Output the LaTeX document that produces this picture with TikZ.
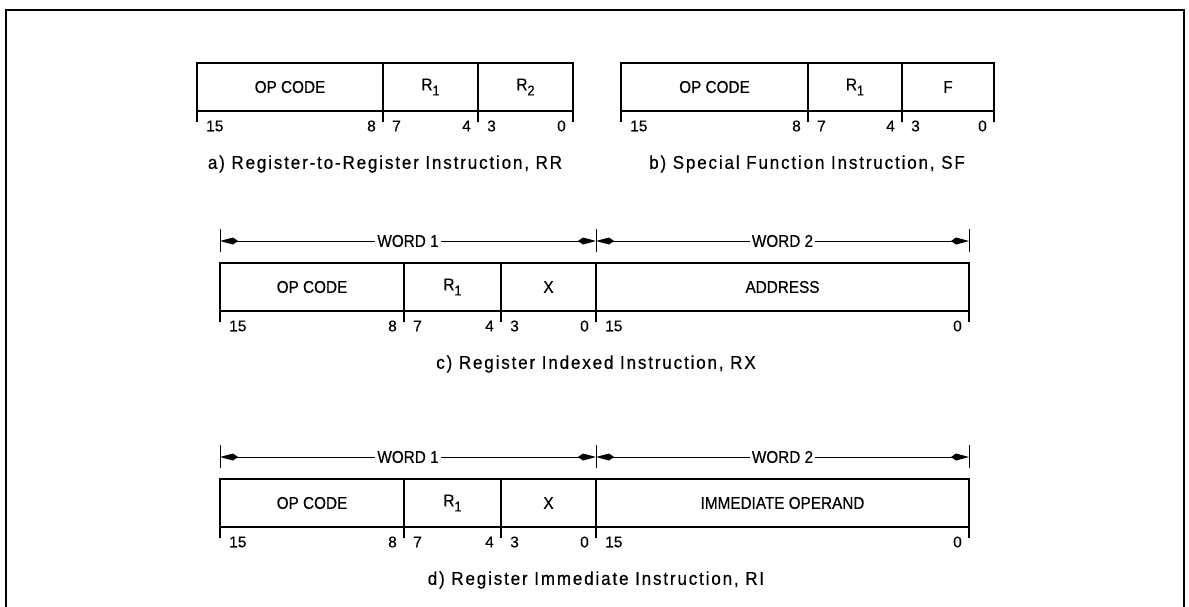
\documentclass[tikz,border=0pt]{standalone}
\usepackage{fontspec}
\setmainfont{Liberation Sans}[FakeBold=0.4]
\newfontfamily\fieldfam[FakeStretch=0.9,FakeBold=0.5]{Liberation Sans}
\newfontfamily\capfam[FakeStretch=0.92,LetterSpace=10,FakeBold=0.5]{Liberation Sans}
\usetikzlibrary{arrows.meta}
\newcommand{\lbl}{\fieldfam\fontsize{17}{20}\selectfont}
\newcommand{\numfnt}{\fontsize{15.5}{18}\selectfont}
\newcommand{\capfnt}{\capfam\fontsize{18.5}{22}\selectfont}
\newcommand{\subone}[1]{\raisebox{-5pt}{\fontsize{14}{14}\selectfont #1}}
\begin{document}
\begin{tikzpicture}[x=1pt,y=-1pt,
  field/.style={draw, line width=1.5pt, minimum height=48pt, inner sep=0pt, outer sep=0pt, anchor=north west, font=\lbl},
  tickline/.style={line width=1.5pt},
  num/.style={inner sep=0pt, font=\numfnt},
  captxt/.style={inner sep=0pt, font=\capfnt},
  wordlbl/.style={inner sep=2pt, font=\lbl},
  dimline/.style={line width=1pt, -{Kite[length=18pt,width=7pt,inset=5pt]}},
  frameline/.style={line width=2pt}]
\useasboundingbox (0,0) rectangle (1189,607);
% frame
\draw[frameline] (6,607) -- (6,10) -- (1184,10) -- (1184,607);

% ---------- a) RR ----------
\node[field, minimum width=186pt] (aop) at (197,63) {OP CODE};
\node[field, minimum width=95pt] (ar1) at (aop.north east) {R\subone{1}};
\node[field, minimum width=95pt] (ar2) at (ar1.north east) {R\subone{2}};
\foreach \n in {aop.south west, ar1.south west, ar2.south west, ar2.south east}
  \draw[tickline] (\n) -- ++(0,11);
\node[num, anchor=west] at ([xshift=9pt,yshift=-15pt]aop.south west) {15};
\node[num, anchor=east] at ([xshift=-7pt,yshift=-15pt]aop.south east) {8};
\node[num, anchor=west] at ([xshift=9pt,yshift=-15pt]ar1.south west) {7};
\node[num, anchor=east] at ([xshift=-7pt,yshift=-15pt]ar1.south east) {4};
\node[num, anchor=west] at ([xshift=9pt,yshift=-15pt]ar2.south west) {3};
\node[num, anchor=east] at ([xshift=-7pt,yshift=-15pt]ar2.south east) {0};
\node[captxt] (capa) at (385,164) {a) Register-to-Register Instruction, RR};

% ---------- b) SF ----------
\node[field, minimum width=187pt] (bop) at (621,63) {OP CODE};
\node[field, minimum width=94pt] (br1) at (bop.north east) {R\subone{1}};
\node[field, minimum width=92pt] (bf) at (br1.north east) {F};
\foreach \n in {bop.south west, br1.south west, bf.south west, bf.south east}
  \draw[tickline] (\n) -- ++(0,11);
\node[num, anchor=west] at ([xshift=9pt,yshift=-15pt]bop.south west) {15};
\node[num, anchor=east] at ([xshift=-7pt,yshift=-15pt]bop.south east) {8};
\node[num, anchor=west] at ([xshift=9pt,yshift=-15pt]br1.south west) {7};
\node[num, anchor=east] at ([xshift=-7pt,yshift=-15pt]br1.south east) {4};
\node[num, anchor=west] at ([xshift=9pt,yshift=-15pt]bf.south west) {3};
\node[num, anchor=east] at ([xshift=-7pt,yshift=-15pt]bf.south east) {0};
\node[captxt] (capb) at (807,164) {b) Special Function Instruction, SF};

% ---------- c) RX ----------
\coordinate (cl) at (220,241);
\coordinate (cm) at (596,241);
\coordinate (cr) at (969,241);
\foreach \c in {cl,cm,cr}
  \draw[line width=1pt] ([yshift=12pt]\c) -- ([yshift=-11pt]\c);
\node[wordlbl] (cw1) at (408,241) {WORD 1};
\node[wordlbl] (cw2) at (782.5,241) {WORD 2};
\draw[dimline] (cw1.west) -- (cl);
\draw[dimline] (cw1.east) -- (cm);
\draw[dimline] (cw2.west) -- (cm);
\draw[dimline] (cw2.east) -- (cr);
\node[field, minimum width=184pt] (cop) at (220,263) {OP CODE};
\node[field, minimum width=97pt] (cr1) at (cop.north east) {R\subone{1}};
\node[field, minimum width=95pt] (cx) at (cr1.north east) {X};
\node[field, minimum width=373pt] (cad) at (cx.north east) {ADDRESS};
\foreach \n in {cop.south west, cr1.south west, cx.south west, cad.south west, cad.south east}
  \draw[tickline] (\n) -- ++(0,11);
\node[num, anchor=west] at ([xshift=9pt,yshift=-15pt]cop.south west) {15};
\node[num, anchor=east] at ([xshift=-7pt,yshift=-15pt]cop.south east) {8};
\node[num, anchor=west] at ([xshift=9pt,yshift=-15pt]cr1.south west) {7};
\node[num, anchor=east] at ([xshift=-7pt,yshift=-15pt]cr1.south east) {4};
\node[num, anchor=west] at ([xshift=9pt,yshift=-15pt]cx.south west) {3};
\node[num, anchor=east] at ([xshift=-7pt,yshift=-15pt]cx.south east) {0};
\node[num, anchor=west] at ([xshift=9pt,yshift=-15pt]cad.south west) {15};
\node[num, anchor=east] at ([xshift=-7pt,yshift=-15pt]cad.south east) {0};
\node[captxt] (capc) at (596,364) {c) Register Indexed Instruction, RX};

% ---------- d) RI ----------
\coordinate (dl) at (220,457);
\coordinate (dm) at (596,457);
\coordinate (dr) at (969,457);
\foreach \c in {dl,dm,dr}
  \draw[line width=1pt] ([yshift=12pt]\c) -- ([yshift=-11pt]\c);
\node[wordlbl] (dw1) at (408,457) {WORD 1};
\node[wordlbl] (dw2) at (782.5,457) {WORD 2};
\draw[dimline] (dw1.west) -- (dl);
\draw[dimline] (dw1.east) -- (dm);
\draw[dimline] (dw2.west) -- (dm);
\draw[dimline] (dw2.east) -- (dr);
\node[field, minimum width=184pt] (dop) at (220,479) {OP CODE};
\node[field, minimum width=97pt] (dr1) at (dop.north east) {R\subone{1}};
\node[field, minimum width=95pt] (dx) at (dr1.north east) {X};
\node[field, minimum width=373pt] (dimm) at (dx.north east) {IMMEDIATE OPERAND};
\foreach \n in {dop.south west, dr1.south west, dx.south west, dimm.south west, dimm.south east}
  \draw[tickline] (\n) -- ++(0,11);
\node[num, anchor=west] at ([xshift=9pt,yshift=-15pt]dop.south west) {15};
\node[num, anchor=east] at ([xshift=-7pt,yshift=-15pt]dop.south east) {8};
\node[num, anchor=west] at ([xshift=9pt,yshift=-15pt]dr1.south west) {7};
\node[num, anchor=east] at ([xshift=-7pt,yshift=-15pt]dr1.south east) {4};
\node[num, anchor=west] at ([xshift=9pt,yshift=-15pt]dx.south west) {3};
\node[num, anchor=east] at ([xshift=-7pt,yshift=-15pt]dx.south east) {0};
\node[num, anchor=west] at ([xshift=9pt,yshift=-15pt]dimm.south west) {15};
\node[num, anchor=east] at ([xshift=-7pt,yshift=-15pt]dimm.south east) {0};
\node[captxt] (capd) at (596,580) {d) Register Immediate Instruction, RI};
\end{tikzpicture}
\end{document}
